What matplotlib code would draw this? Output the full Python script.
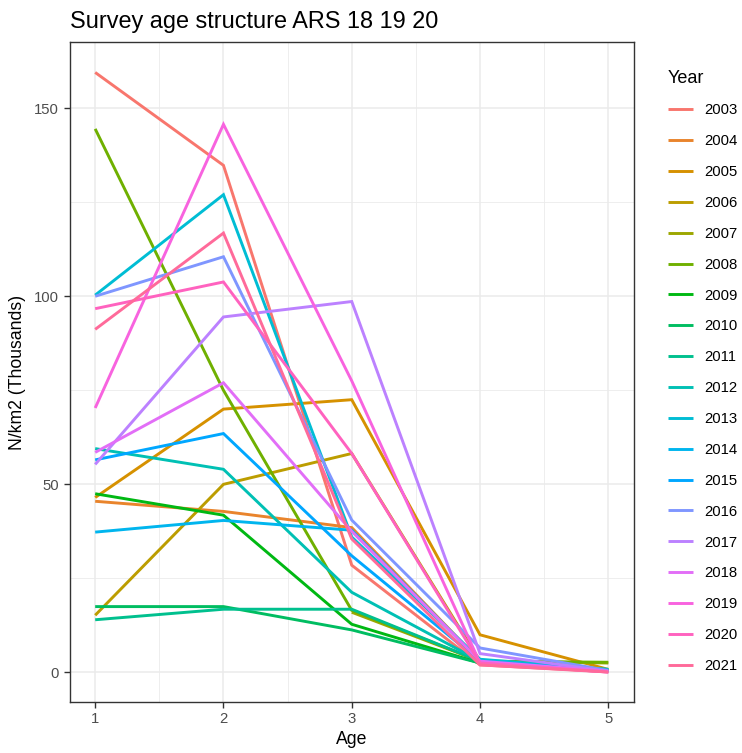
import numpy as np
import matplotlib
matplotlib.use("Agg")
import matplotlib.pyplot as plt

plt.rcParams["font.family"] = ["Liberation Sans", "DejaVu Sans"]

# DATA
ages = [1, 2, 3, 4, 5]
years = list(range(2003, 2022))
nan = np.nan

age1 = [159.5, 45.5, 46.5, 15.2, nan, 144.5, 47.5, 17.5, 14.0, 59.5,
        100.3, 37.3, 56.5, 100.0, 55.3, 58.5, 70.3, 96.7, 91.2]
age2 = [134.8, 42.8, 70.0, 50.0, nan, 75.0, 41.8, 17.5, 16.8, 54.0,
        127.0, 40.4, 63.5, 110.5, 94.5, 77.0, 145.7, 103.8, 116.8]
age3 = [28.5, 38.5, 72.5, 58.2, 16.0, 16.5, 12.8, 11.3, 16.8, 21.3,
        36.0, 37.8, 31.0, 40.5, 98.6, 37.5, 77.5, 58.2, 35.5]
age4 = [2.0, 3.0, 10.0, 3.0, 3.0, 3.0, 2.5, 2.5, 3.0, 3.0,
        3.5, 3.0, 3.0, 6.5, 5.0, 3.0, 2.5, 2.5, 2.0]
age5 = [0.2, 0.3, 0.8, 0.5, 2.5, 2.7, 0.5, 0.3, 0.5, 0.8,
        0.8, 0.5, 0.5, 0.5, 0.3, 0.3, 0.1, 0.1, 0.1]


# ggplot2-style hue palette (polar Luv -> sRGB)
def hue_pal(n, l=65, c=100, h0=15, h1=375):
    hues = np.linspace(h0, h1, n + 1)[:-1]
    xn, yn, zn = 95.047, 100.0, 108.883
    un = 4 * xn / (xn + 15 * yn + 3 * zn)
    vn = 9 * yn / (xn + 15 * yn + 3 * zn)
    Y = yn * ((l + 16) / 116) ** 3
    cols = []
    for h in hues:
        u = c * np.cos(np.radians(h))
        v = c * np.sin(np.radians(h))
        up = u / (13 * l) + un
        vp = v / (13 * l) + vn
        X = Y * 9 * up / (4 * vp)
        Z = Y * (12 - 3 * up - 20 * vp) / (4 * vp)
        xyz = np.array([X, Y, Z]) / 100
        m = np.array([[3.2404542, -1.5371385, -0.4985314],
                      [-0.9692660, 1.8760108, 0.0415560],
                      [0.0556434, -0.2040259, 1.0572252]])
        rgb = m @ xyz
        rgb = np.where(rgb <= 0.0031308, 12.92 * rgb,
                       1.055 * np.power(np.clip(rgb, 0, None), 1 / 2.4) - 0.055)
        cols.append(tuple(np.clip(rgb, 0, 1)))
    return cols


colors = hue_pal(len(years))
values = np.array([age1, age2, age3, age4, age5]).T

fig = plt.figure(figsize=(7.42, 7.53), dpi=100)
ax = fig.add_axes([0.0937, 0.0677, 0.7607, 0.8759])

for i, yr in enumerate(years):
    ax.plot(ages, values[i], color=colors[i], lw=2.1, label=str(yr),
            solid_capstyle="butt", solid_joinstyle="miter")

# limits with ggplot-like 5% expansion
ymin = np.nanmin(values)
ymax = np.nanmax(values)
pad = 0.05 * (ymax - ymin)
ax.set_ylim(ymin - pad, ymax + pad)
ax.set_xlim(0.8, 5.2)

ax.set_xticks(ages)
ax.set_yticks([0, 50, 100, 150])
ax.set_xticks([1.5, 2.5, 3.5, 4.5], minor=True)
ax.set_yticks([25, 75, 125], minor=True)
ax.grid(which="major", color="#EBEBEB", lw=1.1)
ax.grid(which="minor", color="#EBEBEB", lw=0.6)
ax.set_axisbelow(True)
ax.tick_params(which="major", length=4, width=1, color="#333333",
               labelcolor="#4D4D4D", labelsize=10.7)
ax.tick_params(which="minor", length=0)
for s in ax.spines.values():
    s.set_color("#333333")
    s.set_linewidth(1.0)

ax.set_xlabel("Age", fontsize=12.7, labelpad=3)
ax.set_ylabel("N/km2 (Thousands)", fontsize=12.7, labelpad=6)
ax.set_title("Survey age structure ARS 18 19 20", fontsize=16.9, loc="left",
             pad=10.5)

leg = ax.legend(loc="upper left", bbox_to_anchor=(1.05, 0.968), frameon=False,
                title="Year", fontsize=10.7, title_fontsize=13,
                labelspacing=1.135, handlelength=1.65, handletextpad=0.8,
                borderaxespad=0)
leg._legend_box.align = "left"

fig.savefig("out.png", dpi=100)
